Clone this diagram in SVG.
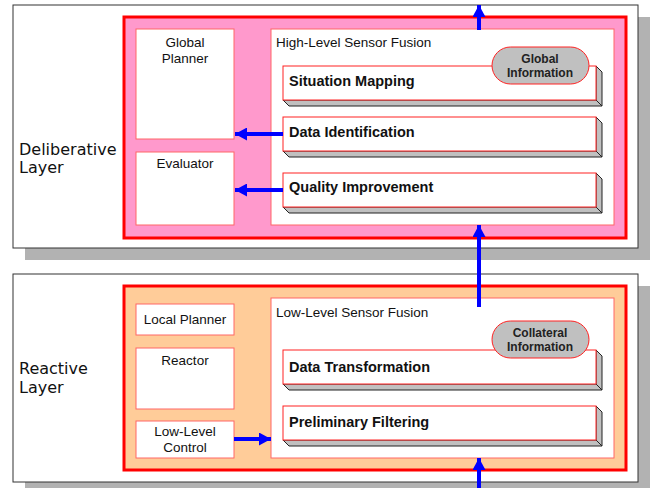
<svg xmlns="http://www.w3.org/2000/svg" width="652" height="488" viewBox="0 0 652 488">
<style>
.shadow{fill:#b2b2b2}
.layer{fill:#fff;stroke:#333;stroke-width:1}
.outer{stroke:#ff0000;stroke-width:3}
.sub{fill:#fff;stroke:#ff6666;stroke-width:1}
.side{fill:#c0c0c0;stroke:#222;stroke-width:1}
.bar{fill:#fff;stroke:#ff2222;stroke-width:1}
.pill{fill:#c0c0c0;stroke:#ff2222;stroke-width:1}
.lbl{font-family:"Liberation Sans",Arial,sans-serif;font-size:13.5px;fill:#111}
.bold{font-family:"Liberation Sans",Arial,sans-serif;font-size:14.5px;font-weight:bold;fill:#111}
.pt{font-family:"Liberation Sans",Arial,sans-serif;font-size:12px;font-weight:bold;fill:#222;text-anchor:middle}
.lay{font-family:"DejaVu Sans",Verdana,sans-serif;font-size:16px;fill:#111}
.arr{stroke:#0000ff;stroke-width:4;fill:none;marker-end:url(#ah)}
</style>
<defs>
<marker id="ah" markerUnits="userSpaceOnUse" markerWidth="13" markerHeight="13" refX="12" refY="6.5" orient="auto">
<path d="M0,0 L12,6.5 L0,13 z" fill="#0000ff"/>
</marker>
</defs>

<g id="deliberative-layer">
<rect class="shadow" x="25" y="17" width="625" height="243"/>
<rect class="layer" x="13" y="5" width="625" height="243"/>
<text class="lay" x="19" y="155">Deliberative</text>
<text class="lay" x="19" y="173">Layer</text>
<rect class="outer" x="124" y="17" width="502" height="221" fill="#ff99cc"/>
</g>

<g id="global-planner">
<rect class="sub" x="136" y="29" width="98" height="110"/>
<text class="lbl" x="185" y="47" text-anchor="middle">Global</text>
<text class="lbl" x="185" y="63" text-anchor="middle">Planner</text>
</g>
<g id="evaluator">
<rect class="sub" x="136" y="152" width="98" height="73"/>
<text class="lbl" x="185" y="168" text-anchor="middle">Evaluator</text>
</g>
<g id="high-level-fusion">
<rect class="sub" x="271" y="29" width="343" height="196"/>
<text class="lbl" x="276" y="47">High-Level Sensor Fusion</text>
</g>
<g id="situation-mapping">
<polygon class="side" points="596,66 602,72 602,106 596,100"/>
<polygon class="side" points="283,100 596,100 602,106 289,106"/>
<rect class="bar" x="283" y="66" width="313" height="34"/>
<text class="bold" x="289" y="86">Situation Mapping</text>
</g>
<g id="global-information">
<rect class="pill" x="492" y="47" width="97" height="37" rx="18.5"/>
<text class="pt" x="540" y="63">Global</text>
<text class="pt" x="540" y="77">Information</text>
</g>
<g id="data-identification">
<polygon class="side" points="596,117 602,123 602,157 596,151"/>
<polygon class="side" points="283,151 596,151 602,157 289,157"/>
<rect class="bar" x="283" y="117" width="313" height="34"/>
<text class="bold" x="289" y="137">Data Identification</text>
</g>
<g id="quality-improvement">
<polygon class="side" points="596,173 602,179 602,213 596,207"/>
<polygon class="side" points="283,207 596,207 602,213 289,213"/>
<rect class="bar" x="283" y="173" width="313" height="34"/>
<text class="bold" x="289" y="192">Quality Improvement</text>
</g>

<g id="reactive-layer">
<rect class="shadow" x="25" y="286" width="625" height="208"/>
<rect class="layer" x="13" y="274" width="625" height="208"/>
<text class="lay" x="19" y="374">Reactive</text>
<text class="lay" x="19" y="393">Layer</text>
<rect class="outer" x="124" y="286" width="502" height="184" fill="#ffcc99"/>
</g>
<g id="local-planner">
<rect class="sub" x="136" y="304" width="98" height="31"/>
<text class="lbl" x="185" y="324" text-anchor="middle">Local Planner</text>
</g>
<g id="reactor">
<rect class="sub" x="136" y="348" width="98" height="61"/>
<text class="lbl" x="185" y="365" text-anchor="middle">Reactor</text>
</g>
<g id="low-level-control">
<rect class="sub" x="136" y="421" width="98" height="37"/>
<text class="lbl" x="185" y="436" text-anchor="middle">Low-Level</text>
<text class="lbl" x="185" y="452" text-anchor="middle">Control</text>
</g>
<g id="low-level-fusion">
<rect class="sub" x="271" y="298" width="343" height="160"/>
<text class="lbl" x="276" y="317">Low-Level Sensor Fusion</text>
</g>
<g id="data-transformation">
<polygon class="side" points="596,350 602,356 602,390 596,384"/>
<polygon class="side" points="283,384 596,384 602,390 289,390"/>
<rect class="bar" x="283" y="350" width="313" height="34"/>
<text class="bold" x="289" y="372">Data Transformation</text>
</g>
<g id="collateral-information">
<rect class="pill" x="492" y="321" width="97" height="37" rx="18.5"/>
<text class="pt" x="540" y="337">Collateral</text>
<text class="pt" x="540" y="351">Information</text>
</g>
<g id="preliminary-filtering">
<polygon class="side" points="596,406 602,412 602,446 596,440"/>
<polygon class="side" points="283,440 596,440 602,446 289,446"/>
<rect class="bar" x="283" y="406" width="313" height="34"/>
<text class="bold" x="289" y="427">Preliminary Filtering</text>
</g>

<g id="connectors">
<line class="arr" x1="479" y1="30" x2="479" y2="5"/>
<line class="arr" x1="479" y1="307" x2="479" y2="225"/>
<line class="arr" x1="479" y1="488" x2="479" y2="458"/>
<line class="arr" x1="283" y1="134" x2="235" y2="134"/>
<line class="arr" x1="283" y1="190" x2="235" y2="190"/>
<line class="arr" x1="234" y1="439" x2="271" y2="439"/>
</g>
</svg>
